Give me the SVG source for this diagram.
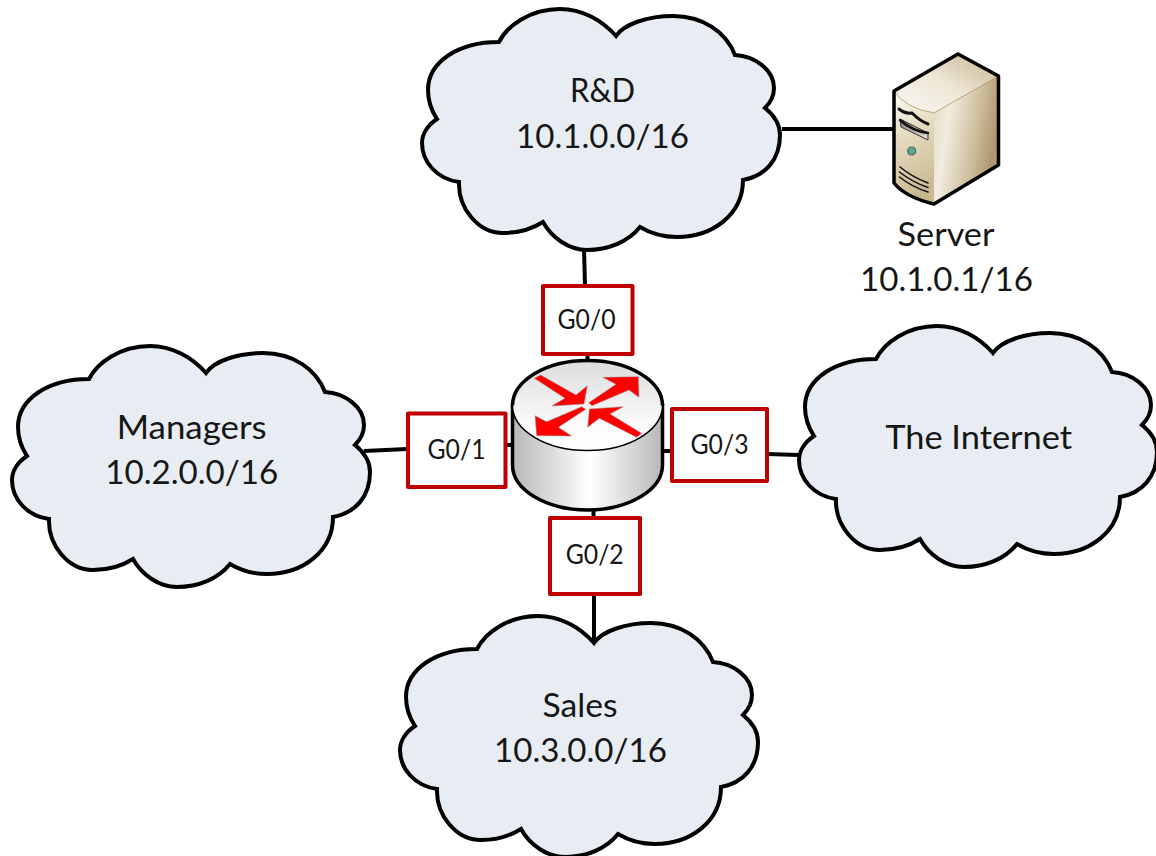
<svg xmlns="http://www.w3.org/2000/svg" width="1156" height="856" viewBox="0 0 1156 856">
<style>
text{font-family:"Lato","Open Sans","Liberation Sans",sans-serif;fill:#161616;text-anchor:middle}
.lbl{font-size:32px}
.port{font-size:26px}
.cloud{fill:#e8edf4;stroke:#000;stroke-width:4;stroke-linejoin:miter}
.box{fill:#fff;stroke:#c00000;stroke-width:4;stroke-linejoin:round}
.wire{fill:none;stroke:#000;stroke-width:4}
.arrow{fill:#f00;stroke:#999;stroke-width:1.5}
.slit{fill:none;stroke:#111;stroke-linecap:round}
</style>
<defs>
<path id="cloudShape" class="cloud" d="M499,42C507,26 530,9 560,9C582,9 602,20 616,36C624,24 648,16 673,16C703,16 726,32 735,55C755,56 774,70 774,88C774,95 771,102 765,108C775,116 780,124 780,135C780,160 765,176 743,180C743,215 712,237 677,237C663,237 650,233 640,227C628,242 608,250 587,250C569,250 552,238 543,222C532,229 518,233 503,233C478,233 458,208 459,182C437,179 422,162 422,143C422,134 428,125 437,119C431,110 428,100 428,90C428,62 458,42 499,42Z"/>
<linearGradient id="rTop" x1="0" y1="0" x2="0" y2="1"><stop offset="0" stop-color="#dcdcdc"/><stop offset="0.7" stop-color="#fbfbfb"/><stop offset="1" stop-color="#ffffff"/></linearGradient>
<linearGradient id="rSide" x1="0" y1="0" x2="1" y2="0"><stop offset="0" stop-color="#b8b8b8"/><stop offset="0.52" stop-color="#ffffff"/><stop offset="1" stop-color="#b8b8b8"/></linearGradient>
<linearGradient id="sTop" x1="0" y1="1" x2="1" y2="0"><stop offset="0" stop-color="#fbf9f4"/><stop offset="0.5" stop-color="#ede6d5"/><stop offset="1" stop-color="#c4b28c"/></linearGradient>
<linearGradient id="sFront" x1="0" y1="0" x2="0.2" y2="1"><stop offset="0" stop-color="#fdfcf9"/><stop offset="0.45" stop-color="#e4dabf"/><stop offset="1" stop-color="#c9b991"/></linearGradient>
<linearGradient id="sRight" x1="0" y1="0" x2="1" y2="0.3"><stop offset="0" stop-color="#e2d9c1"/><stop offset="0.3" stop-color="#f1ecdf"/><stop offset="0.72" stop-color="#cdbd9b"/><stop offset="1" stop-color="#ae9870"/></linearGradient>
<linearGradient id="sSlot" x1="0" y1="0" x2="0" y2="1"><stop offset="0" stop-color="#6f6f68"/><stop offset="1" stop-color="#efeadc"/></linearGradient>
</defs>

<g id="connectors">
<path class="wire" d="M584,248L585,286"/>
<path class="wire" d="M782,129L895,129"/>
<path class="wire" d="M587.500,354L587.500,362"/>
<path class="wire" d="M364,451L407,449"/>
<path class="wire" d="M505,445L514,445"/>
<path class="wire" d="M660,451L672,451"/>
<path class="wire" d="M767,454L799,455"/>
<path class="wire" d="M593.500,509L593.500,518"/>
<path class="wire" d="M594,594L594,643"/>
</g>

<g id="cloud-rd">
<use href="#cloudShape"/>
<text class="lbl" x="602.500" y="102" textLength="65" lengthAdjust="spacingAndGlyphs">R&amp;D</text>
<text class="lbl" x="602.500" y="148" textLength="173" lengthAdjust="spacingAndGlyphs">10.1.0.0/16</text>
</g>
<g id="cloud-managers">
<use href="#cloudShape" transform="translate(-410,337)"/>
<text class="lbl" x="191.700" y="439" textLength="150" lengthAdjust="spacingAndGlyphs">Managers</text>
<text class="lbl" x="191.700" y="484" textLength="173" lengthAdjust="spacingAndGlyphs">10.2.0.0/16</text>
</g>
<g id="cloud-internet">
<use href="#cloudShape" transform="translate(377,317)"/>
<text class="lbl" x="978.700" y="449" textLength="187" lengthAdjust="spacingAndGlyphs">The Internet</text>
</g>
<g id="cloud-sales">
<use href="#cloudShape" transform="translate(-22,607)"/>
<text class="lbl" x="580" y="717" textLength="75" lengthAdjust="spacingAndGlyphs">Sales</text>
<text class="lbl" x="580.500" y="762" textLength="173" lengthAdjust="spacingAndGlyphs">10.3.0.0/16</text>
</g>

<g id="server">
<path d="M894,91L958,54L998.500,76L934,113Q905,108 894,91Z" fill="url(#sTop)"/>
<path d="M894,91Q905,108 934,113L934,204Q905,197 894,183Z" fill="url(#sFront)"/>
<path d="M934,113L998.500,76L998.500,165L934,204Z" fill="url(#sRight)"/>
<path d="M894,91Q905,108 934,113L998.500,76" fill="none" stroke="#a8905f" stroke-width="0.8"/>
<path d="M894,91L958,54L998.500,76L998.500,165L934,204Q905,197 894,183Z" fill="none" stroke="#000" stroke-width="3.500" stroke-linejoin="round"/>
<path class="slit" stroke-width="3" d="M899,109Q905,114 912,113Q920,121 928,124"/>
<path d="M900,119L928,133L928,140L901,127Z" fill="url(#sSlot)" stroke="#333" stroke-width="1"/>
<path class="slit" stroke-width="2.500" d="M900,120Q912,131 928,133"/>
<circle cx="911.700" cy="151" r="4" fill="#55a88a" stroke="#59635a" stroke-width="1.200"/>
<path class="slit" stroke-width="1.600" d="M900,167Q912,177 928,183"/>
<path class="slit" stroke-width="1.600" d="M899.500,172Q912,182 928,187.500"/>
<path class="slit" stroke-width="1.600" d="M899.500,177Q912,187 928,192"/>
<text class="lbl" x="946" y="246" textLength="97" lengthAdjust="spacingAndGlyphs">Server</text>
<text class="lbl" x="946.500" y="291" textLength="173" lengthAdjust="spacingAndGlyphs">10.1.0.1/16</text>
</g>

<g id="router">
<path d="M512.500,405.500L512.500,465A75,45 0 0 0 662.500,465L662.500,405.500Z" fill="url(#rSide)" stroke="#000" stroke-width="3.500"/>
<ellipse cx="587.500" cy="405.500" rx="75" ry="45" fill="url(#rTop)" stroke="#000" stroke-width="1.500"/>
<path d="M512.500,405.500A75,45 0 0 1 662.500,405.500" fill="none" stroke="#000" stroke-width="3.500"/>
<g transform="translate(490,340) scale(0.33333)">
<polygon class="arrow" points="133,115 152,105 258,165 292,137 282,192 185,198 225,175"/>
<polygon class="arrow" points="296,188 378,133 338,112 445,110 447,172 417,150 306,197"/>
<polygon class="arrow" points="275,200 287,208 205,262 245,288 140,287 135,227 170,245"/>
<polygon class="arrow" points="455,280 440,292 328,235 293,262 298,207 400,200 360,222"/>
</g>
</g>

<g id="port-g00"><rect class="box" x="543" y="286" width="89.500" height="68"/><text class="port" x="586.500" y="329" textLength="58" lengthAdjust="spacingAndGlyphs">G0/0</text></g>
<g id="port-g01"><rect class="box" x="408" y="413.500" width="97.500" height="73.500"/><text class="port" x="456.500" y="459" textLength="58" lengthAdjust="spacingAndGlyphs">G0/1</text></g>
<g id="port-g02"><rect class="box" x="550" y="518" width="90" height="76"/><text class="port" x="594.700" y="564" textLength="58" lengthAdjust="spacingAndGlyphs">G0/2</text></g>
<g id="port-g03"><rect class="box" x="672" y="409" width="95" height="72"/><text class="port" x="719.500" y="454" textLength="58" lengthAdjust="spacingAndGlyphs">G0/3</text></g>
</svg>
